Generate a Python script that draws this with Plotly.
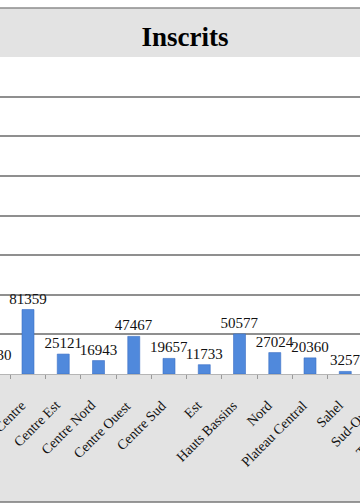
import plotly.graph_objects as go

# ---- data ----
categories = ["Cascades", "Centre", "Centre Est", "Centre Nord", "Centre Ouest",
              "Centre Sud", "Est", "Hauts Bassins", "Nord", "Plateau Central",
              "Sahel", "Sud-Ouest", "Total général"]
inscrits = [10530, 81359, 25121, 16943, 47467, 19657, 11733, 50577, 27024,
            20360, 3257, None, None]
y_ticks = [0, 50000, 100000, 150000, 200000, 250000, 300000, 350000, 400000]
title_text = "Inscrits"

# ---- layout constants ----
W, H = 360, 504
M_T, M_B = 57, 130
PLOT_H = H - M_T - M_B
BASE = H - M_B  # pixel row of the baseline
x_range = [0.2057, 10.418]
SERIF = "Liberation Serif"


def py(p):
    """paper y for a pixel row"""
    return (BASE - p) / PLOT_H


def px_to_paper_x(i, dx=0):
    return (i - x_range[0]) / (x_range[1] - x_range[0]) + dx / W


fig = go.Figure()
fig.add_trace(go.Bar(
    x=categories,
    y=inscrits,
    width=0.34,
    marker=dict(color="#5089dc", line=dict(color="#3a6fc4", width=0.6)),
    text=["" if v is None else str(v) for v in inscrits],
    textposition="outside",
    textfont=dict(family=SERIF, size=15, color="#111111"),
    constraintext="none",
    cliponaxis=False,
    hoverinfo="skip",
))

annotations = []
# value labels of bars whose category lies left of the visible range
for i, (c, v) in enumerate(zip(categories, inscrits)):
    if v is not None and i < x_range[0]:
        annotations.append(dict(
            text=str(v), xref="paper", yref="y", x=px_to_paper_x(i), y=v,
            xanchor="center", yanchor="bottom", yshift=1, showarrow=False,
            font=dict(family=SERIF, size=15, color="#111111"),
        ))

# category labels (rotated)
for i, c in enumerate(categories):
    if i == 0:
        continue
    annotations.append(dict(
        text=c, xref="paper", yref="paper",
        x=px_to_paper_x(i, 3), y=py(BASE + 21),
        xanchor="right", yanchor="top", textangle=-45, showarrow=False,
        font=dict(family=SERIF, size=14, color="#111111"),
    ))

shapes = [
    dict(type="rect", xref="paper", yref="paper", x0=-0.1, x1=1.1,
         y0=py(8), y1=py(-10), fillcolor="white", line=dict(width=0), layer="above"),
    dict(type="line", xref="paper", yref="paper", x0=-0.1, x1=1.1,
         y0=py(8), y1=py(8), line=dict(color="#8c8c8c", width=1.5), layer="above"),
    dict(type="rect", xref="paper", yref="paper", x0=-0.1, x1=1.1,
         y0=py(515), y1=py(502), fillcolor="white", line=dict(width=0), layer="above"),
    dict(type="line", xref="paper", yref="paper", x0=-0.1, x1=1.1,
         y0=py(502), y1=py(502), line=dict(color="#777777", width=1.5), layer="above"),
]

fig.update_layout(
    template="none",
    width=W, height=H,
    margin=dict(l=0, r=0, t=M_T, b=M_B, pad=0),
    paper_bgcolor="#e3e3e3",
    plot_bgcolor="white",
    showlegend=False,
    title=dict(text="<b>" + title_text + "</b>", x=185 / W, xref="paper",
               xanchor="center", y=1 - 37 / H, yref="container", yanchor="middle",
               font=dict(family=SERIF, size=27, color="#000000")),
    xaxis=dict(range=x_range, showticklabels=False, ticks="outside",
               tickson="boundaries", ticklen=4, tickcolor="#9a9a9a",
               showline=True, linecolor="#b5b5b5", linewidth=1,
               showgrid=False, zeroline=False, automargin=False),
    yaxis=dict(range=[y_ticks[0], y_ticks[-1]], tickvals=y_ticks,
               showticklabels=False, showgrid=True, gridcolor="#8f8f8f",
               gridwidth=1.5, zeroline=False, showline=False, ticks="",
               automargin=False),
    annotations=annotations,
    shapes=shapes,
)

fig.write_html("out.html", config={"displayModeBar": False})
